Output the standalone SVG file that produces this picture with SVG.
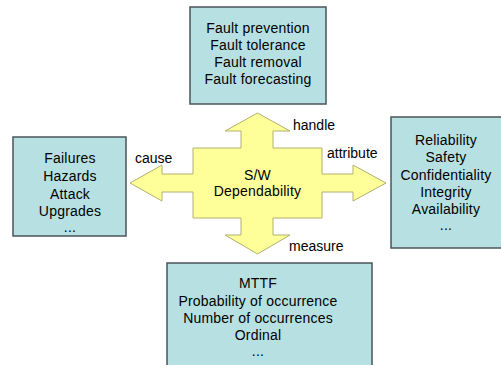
<svg xmlns="http://www.w3.org/2000/svg" width="501" height="365" viewBox="0 0 501 365">
<style>
.box{fill:#b7e0e2;stroke:#4a5558;stroke-width:1.5}
.t{font-family:"Liberation Sans",Arial,sans-serif;font-size:14px;letter-spacing:0.2px;fill:#000;text-anchor:middle}
.l{font-family:"Liberation Sans",Arial,sans-serif;font-size:14px;fill:#000}
.arrow{fill:#ffff99;stroke:#b0b070;stroke-width:1}
</style>
<rect width="501" height="365" fill="#ffffff"/>
<g id="connectors">
<path class="arrow" d="M257.5,113 L290,131 L273,131 L273,148 L322,148 L322,174 L353,174 L353,165 L386,183 L353,201 L353,192 L322,192 L322,218 L273,218 L273,235 L290,235 L257.5,254 L225,235 L241,235 L241,218 L193,218 L193,192 L162,192 L162,201 L130,183 L162,165 L162,174 L193,174 L193,148 L241,148 L241,131 L225,131 Z"/>
<text class="l" x="293" y="130">handle</text>
<text class="l" x="327" y="158">attribute</text>
<text class="l" x="289" y="251">measure</text>
<text class="l" x="135" y="163">cause</text>
</g>
<g id="center">
<text class="t" x="257.5" y="180">S/W</text>
<text class="t" x="257.5" y="196">Dependability</text>
</g>
<g id="top">
<rect class="box" x="190" y="7" width="136" height="97"/>
<text class="t" x="258" y="33">Fault prevention</text>
<text class="t" x="258" y="50">Fault tolerance</text>
<text class="t" x="258" y="67">Fault removal</text>
<text class="t" x="258" y="84">Fault forecasting</text>
</g>
<g id="left">
<rect class="box" x="13" y="137" width="113" height="99"/>
<text class="t" x="70" y="163">Failures</text>
<text class="t" x="70" y="181">Hazards</text>
<text class="t" x="70" y="199">Attack</text>
<text class="t" x="70" y="216">Upgrades</text>
<text class="t" x="70" y="232">...</text>
</g>
<g id="right">
<rect class="box" x="391" y="117" width="112" height="131"/>
<text class="t" x="446" y="145">Reliability</text>
<text class="t" x="446" y="162">Safety</text>
<text class="t" x="446" y="180">Confidentiality</text>
<text class="t" x="446" y="197">Integrity</text>
<text class="t" x="446" y="214">Availability</text>
<text class="t" x="446" y="230">...</text>
</g>
<g id="bottom">
<rect class="box" x="167" y="263" width="205" height="110"/>
<text class="t" x="258" y="288">MTTF</text>
<text class="t" x="258" y="306">Probability of occurrence</text>
<text class="t" x="258" y="323">Number of occurrences</text>
<text class="t" x="258" y="340">Ordinal</text>
<text class="t" x="258" y="356">...</text>
</g>
</svg>
